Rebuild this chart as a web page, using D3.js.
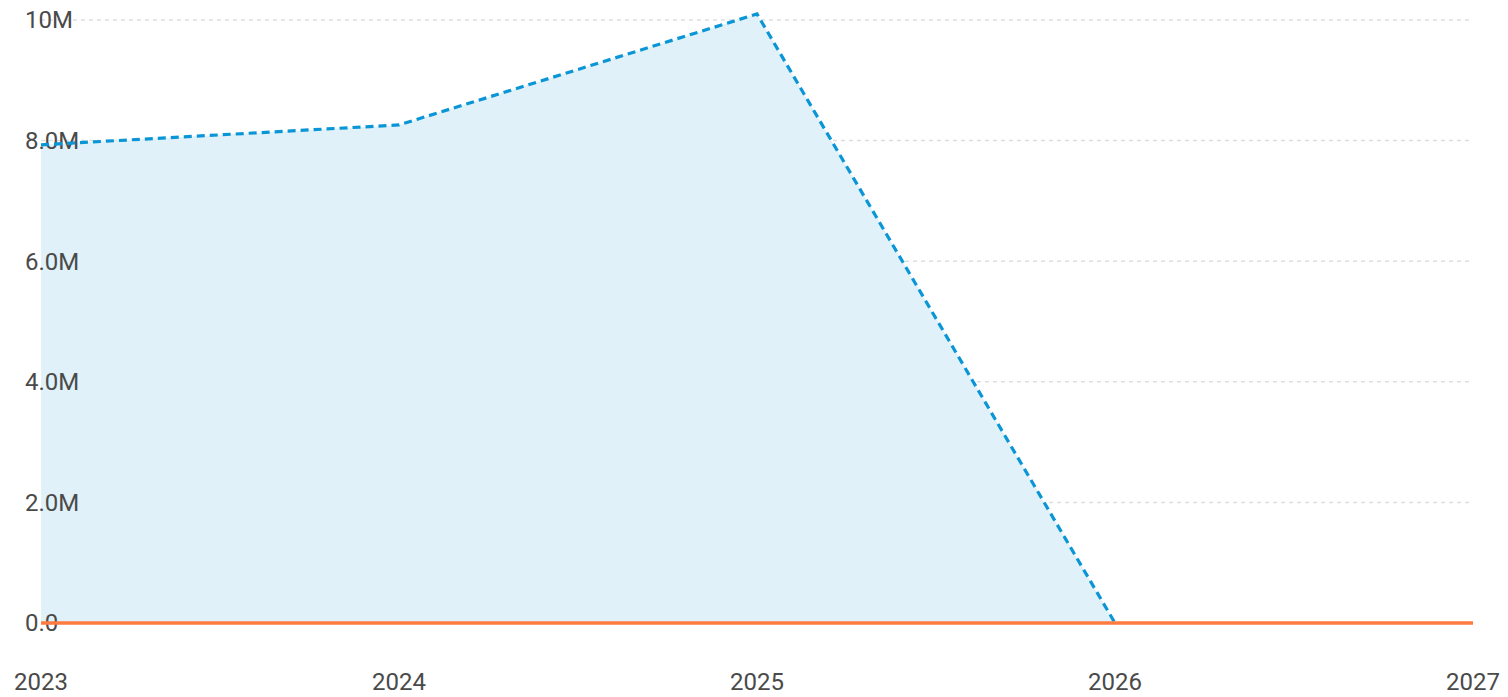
<!DOCTYPE html>
<html><head><meta charset="utf-8">
<script src="https://cdn.jsdelivr.net/npm/d3@7"></script>
<style>body{margin:0;background:#fff;} text{font-family:Roboto, sans-serif;}</style>
</head><body>
<svg id="c" width="1508" height="697"></svg>
<script>
const years = [2023, 2024, 2025, 2026, 2027];
const blueValues = [7930000, 8260000, 10100000, 0, null];
const orangeValues = [0, 0, 0, 0, 0];
const yTicks = [0, 2000000, 4000000, 6000000, 8000000, 10000000];
const yTickLabels = ["0.0", "2.0M", "4.0M", "6.0M", "8.0M", "10M"];

const svg = d3.select("#c");
const x = d3.scaleLinear().domain([2023, 2027]).range([41, 1473]);
const y = d3.scaleLinear().domain([0, 10000000]).range([623, 20]);

// grid
svg.append("g").selectAll("line").data(yTicks).join("line")
  .attr("x1", 41).attr("x2", 1473)
  .attr("y1", d => y(d)).attr("y2", d => y(d))
  .attr("stroke", "#dedede").attr("stroke-width", 1.5).attr("stroke-dasharray", "4,4");

const blue = years.map((yr, i) => ({yr, v: blueValues[i]})).filter(d => d.v !== null);
const orange = years.map((yr, i) => ({yr, v: orangeValues[i]}));

svg.append("path").datum(blue)
  .attr("d", d3.area().x(d => x(d.yr)).y0(y(0)).y1(d => y(d.v)))
  .attr("fill", "#e0f1f9");

// y labels
svg.append("g").selectAll("text").data(yTicks).join("text")
  .attr("x", 25).attr("y", d => y(d)).attr("dy", "0.35em")
  .attr("font-size", 24).attr("fill", "#4a4a4a")
  .text((d, i) => yTickLabels[i]);

svg.append("path").datum(blue)
  .attr("d", d3.line().x(d => x(d.yr)).y(d => y(d.v)))
  .attr("fill", "none").attr("stroke", "#0a96d6").attr("stroke-width", 3.2)
  .attr("stroke-dasharray", "8,5");

svg.append("path").datum(orange)
  .attr("d", d3.line().x(d => x(d.yr)).y(d => y(d.v)))
  .attr("fill", "none").attr("stroke", "#ff7b3f").attr("stroke-width", 3.5);

// x labels
svg.append("g").selectAll("text").data(years).join("text")
  .attr("x", d => x(d)).attr("y", 690)
  .attr("text-anchor", "middle")
  .attr("font-size", 24).attr("fill", "#4a4a4a")
  .text(d => String(d));
</script>
</body></html>
